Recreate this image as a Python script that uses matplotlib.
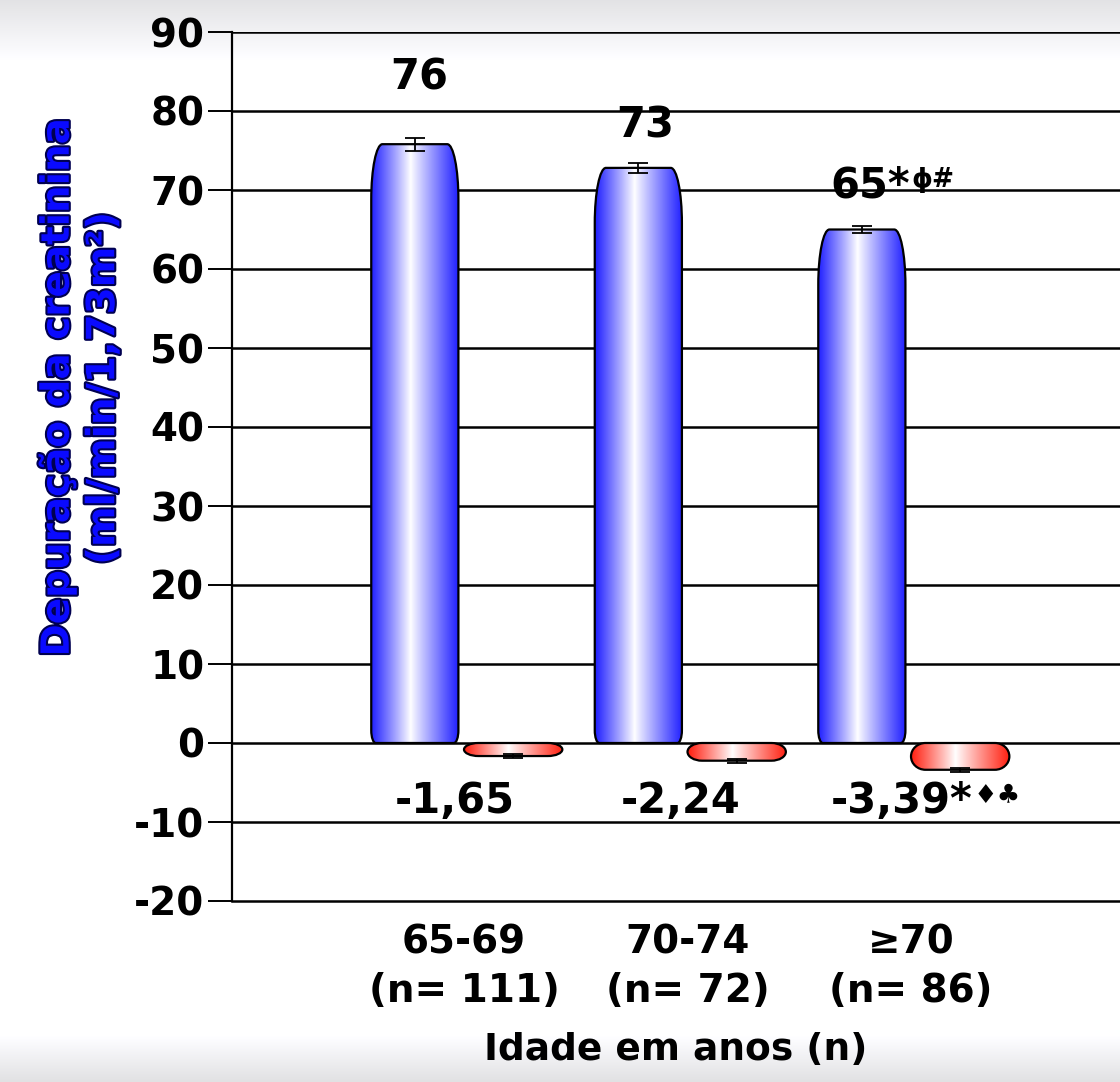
import matplotlib
matplotlib.use("Agg")
import matplotlib.pyplot as plt
import numpy as np
from matplotlib.path import Path
from matplotlib.patches import PathPatch
import matplotlib.patheffects as pe

plt.rcParams['font.family'] = ['DejaVu Sans']
plt.rcParams['font.weight'] = 'bold'
plt.rcParams['axes.unicode_minus'] = False

# data
groups = ['65-69\n(n= 111)', '70-74\n(n= 72)', '\u226570\n(n= 86)']
clearance = [75.8, 72.8, 65.0]
clearance_err = [0.8, 0.6, 0.5]
clearance_lbl = ['76', '73', '65*']
clearance_sup = ['', '', '\u03d5#']
decline = [-1.65, -2.24, -3.39]
decline_err = [0.25, 0.25, 0.25]
decline_lbl = ['-1,65', '-2,24', '-3,39*']
decline_sup = ['', '', '\u2666\u2663']


def rounded_bar(x0, x1, y0, y1, rx, ry_top, ry_bot, rxb=None):
    k = 0.5523
    rxb = rx if rxb is None else rxb
    v = [(x0, y0 + ry_bot), (x0, y1 - ry_top),
         (x0, y1 - ry_top + k * ry_top), (x0 + rx - k * rx, y1), (x0 + rx, y1),
         (x1 - rx, y1),
         (x1 - rx + k * rx, y1), (x1, y1 - ry_top + k * ry_top), (x1, y1 - ry_top),
         (x1, y0 + ry_bot),
         (x1, y0 + ry_bot - k * ry_bot), (x1 - rxb + k * rxb, y0), (x1 - rxb, y0),
         (x0 + rxb, y0),
         (x0 + rxb - k * rxb, y0), (x0, y0 + ry_bot - k * ry_bot), (x0, y0 + ry_bot),
         (x0, y0 + ry_bot)]
    c = [Path.MOVETO, Path.LINETO,
         Path.CURVE4, Path.CURVE4, Path.CURVE4,
         Path.LINETO,
         Path.CURVE4, Path.CURVE4, Path.CURVE4,
         Path.LINETO,
         Path.CURVE4, Path.CURVE4, Path.CURVE4,
         Path.LINETO,
         Path.CURVE4, Path.CURVE4, Path.CURVE4,
         Path.CLOSEPOLY]
    return Path(v, c)


def cylinder_shade(edge, peak=0.45, n=200):
    t = np.linspace(0, 1, n)
    d = np.where(t < peak, (peak - t) / peak, (t - peak) / (1 - peak))
    s = d ** 0.95
    edge = np.array(edge)
    img = (1 - s)[:, None] * np.ones(3) + s[:, None] * edge
    return img[None, :, :]


def shaded_bar(ax, x0, x1, y0, y1, rx, ry_top, ry_bot, edge, rxb=None):
    path = rounded_bar(x0, x1, y0, y1, rx, ry_top, ry_bot, rxb)
    patch = PathPatch(path, facecolor='none', edgecolor='black', lw=1.6, zorder=4)
    ax.add_patch(patch)
    im = ax.imshow(cylinder_shade(edge), extent=(x0, x1, y0, y1), aspect='auto',
                   interpolation='bilinear', zorder=3)
    im.set_clip_path(patch)


W, H = 1120, 1082
fig = plt.figure(figsize=(W / 100, H / 100), dpi=100)

# slide background: grey fade at top and bottom
bg = fig.add_axes([0, 0, 1, 1], zorder=-10)
yy = np.arange(H)
rows = np.ones(H)
rows = np.where(yy < 60, 0.89 + 0.11 * (yy / 60.0), rows)
rows = np.where(yy > 1035, 1.0 - 0.12 * ((yy - 1035) / 47.0), rows)
bgimg = np.repeat(rows[:, None], 10, axis=1)
bgimg = np.stack([bgimg, bgimg, bgimg * 1.01], axis=2).clip(0, 1)
bg.imshow(bgimg, extent=(0, 1, 0, 1), aspect='auto')
bg.axis('off')

ax = fig.add_axes([232 / W, 181 / H, 1 - 232 / W, (1050 - 181) / H])
ax.patch.set_alpha(0)
ax.set_xlim(-1.038, 2.935)
ax.set_ylim(-20, 90)

x = np.arange(len(groups))
off = 0.22
for i in range(len(groups)):
    bx = x[i] - off
    shaded_bar(ax, bx - 0.195, bx + 0.195, 0, clearance[i], 0.05, 7.0, 1.6,
               (0.12, 0.12, 1.0), rxb=0.02)
    rx = x[i] + off
    h = -decline[i]
    shaded_bar(ax, rx - 0.22, rx + 0.22, decline[i], 0, 0.065, h / 2, h / 2,
               (1.0, 0.12, 0.06))

ax.errorbar(x - off, clearance, yerr=clearance_err, fmt='none', ecolor='black',
            elinewidth=1.3, capsize=7, capthick=1.3, zorder=6)
ax.errorbar(x + off, decline, yerr=decline_err, fmt='none', ecolor='black',
            elinewidth=1.3, capsize=7, capthick=1.3, zorder=6)

for yv in range(-10, 100, 10):
    ax.axhline(yv, color='black', lw=1.8, zorder=1)

ax.spines['right'].set_visible(False)
ax.spines['top'].set_visible(False)
ax.spines['left'].set_linewidth(1.6)
ax.spines['bottom'].set_linewidth(1.8)
ax.set_yticks(range(-20, 100, 10))
ax.tick_params(axis='y', direction='out', length=17, width=1.4, labelsize=28, pad=3)
ax.set_xticks(x)
ax.set_xticklabels(groups, fontsize=28, linespacing=1.35)
ax.tick_params(axis='x', length=0, pad=16)
ax.set_xlabel('Idade em anos (n)', fontsize=27, fontweight='bold', labelpad=16)

fig.text(80 / W, 1 - 388 / H, 'Depura\u00e7\u00e3o da creatinina\n(ml/min/1,73m\u00b2)',
         rotation=90, ha='center', va='center', multialignment='center',
         fontsize=28, color='#0a0aff', linespacing=1.25,
         path_effects=[pe.withStroke(linewidth=3, foreground='#000050')])

fig.canvas.draw()
r = fig.canvas.get_renderer()


def label(xv, yv, main, sup, ha='center'):
    t = ax.text(xv, yv, main, ha=ha, va='center', fontsize=30, zorder=7)
    if sup:
        bb = t.get_window_extent(renderer=r)
        fx, fy = fig.transFigure.inverted().transform((bb.x1 + 1, bb.y0 + bb.height * 0.62))
        fig.text(fx, fy, sup, ha='left', va='center', fontsize=19, zorder=7)


xpos_top = [-0.2, 0.81, 1.64]
ypos_top = [84.3, 78.2, 70.6]
for i in range(len(groups)):
    ha = 'left' if clearance_sup[i] else 'center'
    label(xpos_top[i], ypos_top[i], clearance_lbl[i], clearance_sup[i], ha)

xpos_bot = [-0.04, 0.97, 1.64]
for i in range(len(groups)):
    ha = 'left' if decline_sup[i] else 'center'
    label(xpos_bot[i], -7.3, decline_lbl[i], decline_sup[i], ha)

fig.savefig('out.png', dpi=100)
